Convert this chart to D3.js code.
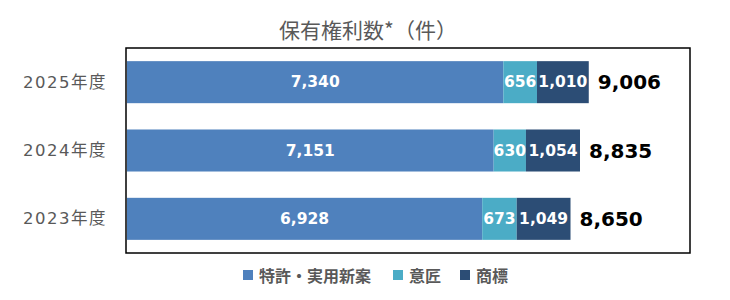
<!DOCTYPE html>
<meta charset="utf-8">
<script src="https://d3js.org/d3.v7.min.js"></script>
<style>
  body { margin: 0; background: #fff; }
  text { font-family: "DejaVu Sans", "Noto Sans CJK JP", sans-serif; }
</style>
<div id="my_dataviz"></div>
<script>

// data
var years = ["2025年度", "2024年度", "2023年度"];
var patent = [7340, 7151, 6928];
var design = [656, 630, 673];
var trademark = [1010, 1054, 1049];
var seriesNames = ["特許・実用新案", "意匠", "商標"];
var seriesColors = ["#4f81bd", "#4bacc6", "#2c4d75"];

var W = 730, H = 300;
var margin = {top: 48, right: 40, bottom: 47, left: 126},
  width = W - margin.left - margin.right,
  height = H - margin.top - margin.bottom;

var svg = d3.select("#my_dataviz")
  .append("svg")
    .attr("width", W)
    .attr("height", H);

// title
svg.append("text")
  .attr("x", 368)
  .attr("y", 29)
  .attr("text-anchor", "middle")
  .attr("dominant-baseline", "central")
  .style("font-size", "21px")
  .style("font-family", "'Noto Sans CJK JP', sans-serif")
  .style("fill", "#595959")
  .text("保有権利数*（件）");

var g = svg.append("g")
  .attr("transform", "translate(" + margin.left + "," + margin.top + ")");

var table = years.map(function(y, i) {
  return {year: y, s0: patent[i], s1: design[i], s2: trademark[i]};
});
var keys = ["s0", "s1", "s2"];
var stacked = d3.stack().keys(keys)(table);

var x = d3.scaleLinear().domain([0, 11000]).range([0, width]);
var y = d3.scaleBand().domain(years).range([0, height])
  .paddingInner(0.385).paddingOuter(0.1925);

// frame
g.append("rect")
  .attr("x", 0).attr("y", 0)
  .attr("width", width).attr("height", height)
  .style("fill", "none")
  .style("stroke", "#000")
  .style("stroke-width", 1.5);

// bars
var layers = g.selectAll(".layer")
  .data(stacked)
  .enter().append("g")
    .attr("class", "layer")
    .attr("fill", function(d, i) { return seriesColors[i]; });

layers.selectAll("rect")
  .data(function(d) { return d; })
  .enter().append("rect")
    .attr("x", function(d) { return x(d[0]) + 1; })
    .attr("y", function(d) { return y(d.data.year); })
    .attr("width", function(d) { return x(d[1]) - x(d[0]); })
    .attr("height", y.bandwidth());

// values inside segments
layers.selectAll(".val")
  .data(function(d) { return d; })
  .enter().append("text")
    .attr("class", "val")
    .attr("x", function(d) { return (x(d[0]) + x(d[1])) / 2 + 1; })
    .attr("y", function(d) { return y(d.data.year) + y.bandwidth() / 2; })
    .attr("text-anchor", "middle")
    .attr("dominant-baseline", "central")
    .style("font-size", "15.5px")
    .style("font-weight", "bold")
    .style("fill", "#fff")
    .text(function(d) { return d3.format(",")(d[1] - d[0]); });

// totals
g.selectAll(".total")
  .data(table)
  .enter().append("text")
    .attr("class", "total")
    .attr("x", function(d) { return x(d.s0 + d.s1 + d.s2) + 10; })
    .attr("y", function(d) { return y(d.year) + y.bandwidth() / 2; })
    .attr("dominant-baseline", "central")
    .style("font-size", "20px")
    .style("font-weight", "bold")
    .style("fill", "#000")
    .text(function(d) { return d3.format(",")(d.s0 + d.s1 + d.s2); });

// category labels
g.selectAll(".cat")
  .data(years)
  .enter().append("text")
    .attr("class", "cat")
    .attr("x", -19)
    .attr("y", function(d) { return y(d) + y.bandwidth() / 2; })
    .attr("text-anchor", "end")
    .attr("dominant-baseline", "central")
    .style("font-size", "16.5px")
    .style("letter-spacing", "1.5px")
    .style("fill", "#595959")
    .text(function(d) { return d; });

// legend
var legendX = [243, 393, 460];
var legend = svg.selectAll(".legend")
  .data(seriesNames)
  .enter().append("g")
    .attr("class", "legend")
    .attr("transform", function(d, i) { return "translate(" + legendX[i] + ",275)"; });

legend.append("rect")
  .attr("x", 0).attr("y", -5)
  .attr("width", 10).attr("height", 10)
  .style("fill", function(d, i) { return seriesColors[i]; });

legend.append("text")
  .attr("x", 16)
  .attr("y", 0)
  .attr("dominant-baseline", "central")
  .style("font-size", "16px")
  .style("font-weight", "bold")
  .style("font-family", "'Noto Sans CJK JP', sans-serif")
  .style("fill", "#595959")
  .text(function(d) { return d; });

</script>
